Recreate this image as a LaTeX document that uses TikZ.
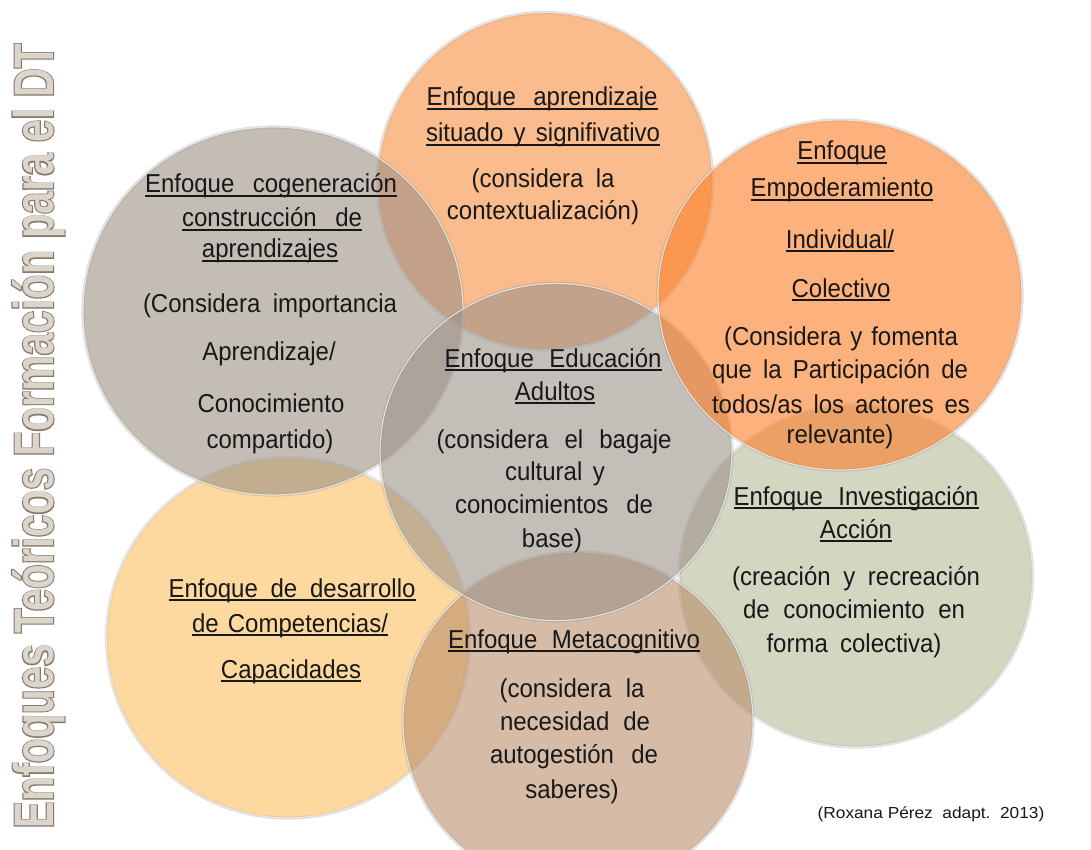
\documentclass[tikz,border=0pt]{standalone}
\usepackage{graphicx}
\usepackage{fontspec}
\usetikzlibrary{shapes.geometric}
\setmainfont{Liberation Sans}
\newfontfamily\ttlthick{Liberation Sans Bold}[FakeBold=4]
\newfontfamily\ttlthin{Liberation Sans Bold}
\definecolor{cTop}{RGB}{248,142,65}
\definecolor{cRight}{RGB}{252,127,40}
\definecolor{cGray}{RGB}{157,145,133}
\definecolor{cCen}{RGB}{158,147,137}
\definecolor{cYel}{RGB}{252,192,98}
\definecolor{cMeta}{RGB}{187,142,107}
\definecolor{cGreen}{RGB}{183,187,152}
\definecolor{txt}{RGB}{24,24,24}
\definecolor{ttlDark}{RGB}{132,121,108}
\definecolor{ttlLight}{RGB}{220,213,203}
\newcommand\ulbox[1]{\leavevmode\setbox0=\hbox{#1}\rlap{\rule[-4pt]{\wd0}{2pt}}\box0}
\newcommand\sw[2]{\makebox[#1pt][s]{#2}}
\newcommand\T[1]{\scalebox{1}[1.08]{#1}}
\tikzset{
  disc/.style 2 args={ellipse, inner sep=0pt, minimum width=#1, minimum height=#2,
    preaction={draw=black!60, draw opacity=0.22, line width=3.2pt, fill=none},
    fill opacity=0.6, draw=white!92!black, draw opacity=0.85, line width=1.2pt},
  ln/.style={inner sep=0pt, anchor=base, text=txt, font=\fontsize{24}{28}\selectfont},
  ttl/.style={inner sep=0pt, anchor=base, rotate=90, font=\fontsize{40.4}{48}\selectfont},
}
\begin{document}
\begin{tikzpicture}[x=1pt, y=-1pt]
\path[use as bounding box, fill=white] (0,0) rectangle (1091,850);
% circles (bottom to top)
\node[disc={353pt}{342pt}, fill=cGreen]  (c7) at (856,576) {};
\node[disc={335pt}{337pt}, fill=cTop]    (c1) at (545,181) {};
\node[disc={363pt}{360pt}, fill=cYel]    (c5) at (288,638) {};
\node[disc={350pt}{338pt}, fill=cMeta]   (c6) at (578,721) {};
\node[disc={380pt}{368pt}, fill=cGray]   (c2) at (273,311) {};
\node[disc={352pt}{337pt}, fill=cCen]    (c4) at (556,452) {};
\node[disc={364pt}{350pt}, fill=cRight]  (c3) at (840,295) {};
% title
\node[ttl, text=ttlDark]  (ttlA) at (53,436) {\scalebox{1}[1.38]{\ttlthick Enfoques Teóricos Formación para el DT}};
\node[ttl, text=ttlLight] (ttlB) at (53,436) {\scalebox{1}[1.38]{\ttlthin Enfoques Teóricos Formación para el DT}};
% circle 1
\node[ln] (t1a) at (542,106) {\T{\ulbox{\sw{231}{Enfoque aprendizaje}}}};
\node[ln] (t1b) at (543,142) {\T{\ulbox{\sw{234}{situado y signifivativo}}}};
\node[ln] (t1c) at (543,188) {\T{\sw{143}{(considera la}}};
\node[ln] (t1d) at (543,220) {\T{contextualización)}};
% circle 2
\node[ln] (t2a) at (271,193) {\T{\ulbox{\sw{252}{Enfoque cogeneración}}}};
\node[ln] (t2b) at (272,227) {\T{\ulbox{\sw{180}{construcción de}}}};
\node[ln] (t2c) at (270,258) {\T{\ulbox{aprendizajes}}};
\node[ln] (t2d) at (270,312) {\T{\sw{254}{(Considera importancia}}};
\node[ln] (t2e) at (269,360) {\T{Aprendizaje/}};
\node[ln] (t2f) at (271,412) {\T{Conocimiento}};
\node[ln] (t2g) at (270,448) {\T{compartido)}};
% circle 3
\node[ln] (t3a) at (842,160) {\T{\ulbox{Enfoque}}};
\node[ln] (t3b) at (842,197) {\T{\ulbox{Empoderamiento}}};
\node[ln] (t3c) at (840,248) {\T{\ulbox{Individual/}}};
\node[ln] (t3d) at (841,297) {\T{\ulbox{Colectivo}}};
\node[ln] (t3e) at (841,345) {\T{\sw{234}{(Considera y fomenta}}};
\node[ln] (t3f) at (840,378) {\T{\sw{256}{que la Participación de}}};
\node[ln] (t3g) at (841,413) {\T{\sw{258}{todos/as los actores es}}};
\node[ln] (t3h) at (840,443) {\T{relevante)}};
% circle 4
\node[ln] (t4a) at (553,367) {\T{\ulbox{\sw{217}{Enfoque Educación}}}};
\node[ln] (t4b) at (555,400) {\T{\ulbox{Adultos}}};
\node[ln] (t4c) at (554,448) {\T{\sw{235}{(considera el bagaje}}};
\node[ln] (t4d) at (555,480) {\T{\sw{100}{cultural y}}};
\node[ln] (t4e) at (554,513) {\T{\sw{198}{conocimientos de}}};
\node[ln] (t4f) at (552,547) {\T{base)}};
% circle 5
\node[ln] (t5a) at (292,597) {\T{\ulbox{\sw{247}{Enfoque de desarrollo}}}};
\node[ln] (t5b) at (290,632) {\T{\ulbox{\sw{196}{de Competencias/}}}};
\node[ln] (t5c) at (291,678) {\T{\ulbox{Capacidades}}};
% circle 6
\node[ln] (t6a) at (574,648) {\T{\ulbox{\sw{252}{Enfoque Metacognitivo}}}};
\node[ln] (t6b) at (572,697) {\T{\sw{145}{(considera la}}};
\node[ln] (t6c) at (575,730) {\T{\sw{150}{necesidad de}}};
\node[ln] (t6d) at (574,763) {\T{\sw{168}{autogestión de}}};
\node[ln] (t6e) at (572,798) {\T{saberes)}};
% circle 7
\node[ln] (t7a) at (856,505) {\T{\ulbox{\sw{245}{Enfoque Investigación}}}};
\node[ln] (t7b) at (856,538) {\T{\ulbox{Acción}}};
\node[ln] (t7c) at (856,585) {\T{\sw{248}{(creación y recreación}}};
\node[ln] (t7d) at (854,618) {\T{\sw{222}{de conocimiento en}}};
\node[ln] (t7e) at (854,652) {\T{\sw{175}{forma colectiva)}}};
% credit
\node[inner sep=0pt, anchor=base, text=txt, font=\fontsize{16}{19}\selectfont] (cred) at (931,818)
  {\scalebox{1.08}[1]{(Roxana Pérez\ \ adapt.\ \ 2013)}};
\end{tikzpicture}
\end{document}
